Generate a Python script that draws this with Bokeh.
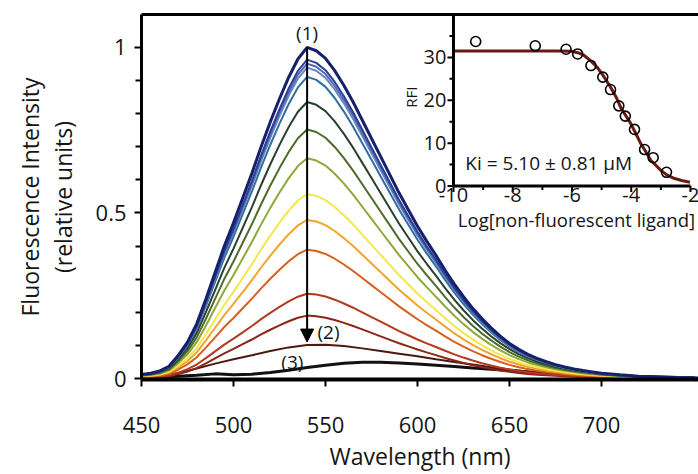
import math
from bokeh.plotting import figure
from bokeh.models import Range1d, LinearAxis, FixedTicker, Arrow, NormalHead
from bokeh.core.properties import value
from bokeh.embed import file_html
from bokeh.resources import INLINE

# ---------------- data ----------------
wavelength = [450, 455, 460, 465, 470, 475, 480, 485, 490, 495, 500, 505, 510, 515, 520,
              525, 530, 535, 540, 545, 550, 555, 560, 565, 570, 575, 580, 585, 590, 595,
              600, 605, 610, 615, 620, 625, 630, 635, 640, 645, 650, 655, 660, 665, 670,
              675, 680, 685, 690, 695, 700, 710, 720, 730, 740, 750, 755]
base_spectrum = [0.012, 0.016, 0.023, 0.037, 0.07, 0.11, 0.165, 0.24, 0.32, 0.40, 0.47,
                 0.545, 0.62, 0.70, 0.775, 0.845, 0.91, 0.965, 1.0, 0.99, 0.967, 0.93,
                 0.885, 0.835, 0.78, 0.725, 0.67, 0.615, 0.56, 0.51, 0.46, 0.415, 0.372,
                 0.327, 0.285, 0.247, 0.212, 0.181, 0.153, 0.128, 0.106, 0.088, 0.073,
                 0.061, 0.051, 0.042, 0.035, 0.029, 0.024, 0.02, 0.016, 0.011, 0.007,
                 0.005, 0.003, 0.002, 0.0015]
peak_levels = [1.000, 0.963, 0.951, 0.939, 0.911, 0.835, 0.752, 0.665, 0.557, 0.479,
               0.389, 0.256, 0.190]
curve_colors = ["#17206b", "#2b3f93", "#4f67b5", "#6a86c6", "#2f6f9c", "#29402f",
                "#4f6b2a", "#8fa83a", "#f3e84a", "#f2a52c", "#d8601e", "#b33a1f", "#8b2616"]

low_wavelength = [450, 460, 470, 480, 490, 500, 510, 520, 530, 540, 550, 560, 570, 580,
                  590, 600, 610, 620, 630, 640, 650, 660, 670, 680, 690, 700, 720, 750]
brown_spectrum = [0.003, 0.008, 0.016, 0.03, 0.045, 0.058, 0.07, 0.083, 0.094, 0.101,
                  0.102, 0.098, 0.091, 0.083, 0.075, 0.067, 0.058, 0.05, 0.042, 0.034,
                  0.027, 0.021, 0.016, 0.012, 0.009, 0.007, 0.004, 0.002]
black_spectrum = [0.004, 0.005, 0.007, 0.01, 0.014, 0.011, 0.013, 0.018, 0.025, 0.033,
                  0.04, 0.046, 0.049, 0.049, 0.047, 0.044, 0.04, 0.036, 0.032, 0.028,
                  0.024, 0.02, 0.016, 0.013, 0.01, 0.008, 0.005, 0.002]

x_ticks = [450, 500, 550, 600, 650, 700]
y_ticks = [0, 0.5, 1]
y_minor_ticks = [0.1, 0.2, 0.3, 0.4, 0.6, 0.7, 0.8, 0.9]

# inset: binding curve
inset_logc = [-9.25, -7.24, -6.2, -5.81, -5.36, -4.96, -4.70, -4.42, -4.20, -3.89,
              -3.55, -3.26, -2.81]
inset_rfi = [33.7, 32.7, 31.9, 30.8, 28.1, 25.4, 22.5, 18.7, 16.3, 13.2, 8.5, 6.6, 3.2]
fit_logc = [-10, -9, -8, -7, -6.5, -6.05, -5.8, -5.6, -5.4, -5.15, -4.95, -4.7, -4.5,
            -4.36, -4.2, -4.02, -3.85, -3.68, -3.5, -3.34, -3.15, -3.01, -2.8, -2.56,
            -2.3, -2.02]
fit_rfi = [31.5, 31.5, 31.5, 31.5, 31.5, 31.45, 31.1, 30.5, 29.4, 27.7, 25.8, 23.1, 20.6,
           18.4, 16.6, 14.6, 12.3, 9.9, 7.9, 6.0, 4.7, 3.7, 2.6, 1.8, 1.3, 0.9]
inset_xticks = [-10, -8, -6, -4, -2]
inset_xminor = [-9, -7, -5, -3]
inset_yticks = [0, 10, 20, 30]
inset_yminor = [5, 15, 25, 35]

FONT = "Open Sans"
TXT = "#151515"

p = figure(width=698, height=474, output_backend="svg", toolbar_location=None,
           x_range=Range1d(450, 752.7), y_range=Range1d(-0.003, 1.0994),
           min_border_left=141, min_border_right=0, min_border_top=14, min_border_bottom=94)
p.extra_x_ranges = {"ix": Range1d(-20.53, -1.73)}
p.extra_y_ranges = {"iy": Range1d(-45.12, 40.0)}
p.grid.visible = False
p.outline_line_color = None
p.background_fill_color = "white"
p.border_fill_color = "white"

# main axes
xa = p.xaxis[0]
xa.ticker = FixedTicker(ticks=x_ticks)
xa.axis_line_width = 4
xa.axis_line_color = "black"
xa.major_tick_out = 7
xa.major_tick_in = 0
xa.major_tick_line_width = 2
xa.minor_tick_line_color = None
xa.major_label_text_font = FONT
xa.major_label_text_font_size = "22px"
xa.major_label_text_color = TXT
xa.major_label_standoff = 30
xa.axis_label = "Wavelength (nm)"
xa.axis_label_text_font = FONT
xa.axis_label_text_font_size = "23px"
xa.axis_label_text_font_style = "normal"
xa.axis_label_text_color = TXT
xa.axis_label_standoff = 4

ya = p.yaxis[0]
ya.ticker = FixedTicker(ticks=y_ticks, minor_ticks=y_minor_ticks)
ya.axis_line_width = 3
ya.axis_line_color = "black"
ya.major_tick_out = 7
ya.major_tick_in = 0
ya.major_tick_line_width = 2
ya.minor_tick_out = 6
ya.minor_tick_in = 0
ya.minor_tick_line_width = 2
ya.major_label_overrides = {0: "0", 0.5: "0.5", 1: "1"}
ya.major_label_text_font = FONT
ya.major_label_text_font_size = "22px"
ya.major_label_text_color = TXT
ya.major_label_standoff = 8
ya.axis_label = "(relative units)"
ya.axis_label_text_font = FONT
ya.axis_label_text_font_size = "23px"
ya.axis_label_text_font_style = "normal"
ya.axis_label_text_color = TXT
ya.axis_label_standoff = 14

outer_y = LinearAxis(ticker=FixedTicker(ticks=[]), axis_line_color=None,
                     major_tick_line_color=None, minor_tick_line_color=None,
                     major_label_text_font_size="0px",
                     axis_label="Fluorescence Intensity", axis_label_text_font=FONT,
                     axis_label_text_font_size="23px", axis_label_text_font_style="normal",
                     axis_label_text_color=TXT, axis_label_standoff=-2)
p.add_layout(outer_y, "left")

top_axis = LinearAxis(ticker=FixedTicker(ticks=[]), axis_line_width=3,
                      axis_line_color="black", major_tick_line_color=None,
                      minor_tick_line_color=None, major_label_text_font_size="0px")
p.add_layout(top_axis, "above")

# spectra: draw lowest first
p.line(low_wavelength, black_spectrum, line_color="#111111", line_width=3)
p.line(low_wavelength, brown_spectrum, line_color="#4a1a12", line_width=2)
for amp, col in reversed(list(zip(peak_levels, curve_colors))):
    ys = [amp * v for v in base_spectrum]
    lw = 3 if amp == peak_levels[0] else 2
    p.line(wavelength, ys, line_color=col, line_width=lw)

# arrow and labels
p.add_layout(Arrow(end=NormalHead(size=13, fill_color="black", line_color="black"),
                   x_start=540, y_start=1.0, x_end=540, y_end=0.11,
                   line_width=2, line_color="black"))
p.text(x=[540, 551.6, 532], y=[1.045, 0.14, 0.05], text=["(1)", "(2)", "(3)"],
       text_font=value(FONT), text_font_size="19px", text_color=TXT,
       text_align="center", text_baseline="middle")

# ---------------- inset ----------------
R = dict(x_range_name="ix", y_range_name="iy")
p.line(fit_logc, fit_rfi, line_color="#6b1a10", line_width=3, **R)
p.scatter(inset_logc, inset_rfi, marker="circle", size=10, fill_color=None,
          line_color="black", line_width=1.6, **R)
# inset axis lines
p.segment(x0=[inset_xticks[0], inset_xticks[0]], y0=[inset_yticks[0], inset_yticks[0]],
          x1=[inset_xticks[0], inset_xticks[-1]], y1=[40.0, inset_yticks[0]],
          line_color="black", line_width=3, **R)
# inset ticks
p.ray(x=[inset_xticks[0]] * len(inset_yticks), y=inset_yticks, length=6,
      length_units="screen", angle=math.pi, line_color="black", line_width=2, **R)
p.ray(x=[inset_xticks[0]] * len(inset_yminor), y=inset_yminor, length=4,
      length_units="screen", angle=math.pi, line_color="black", line_width=2, **R)
p.ray(x=inset_xticks, y=[0] * len(inset_xticks), length=6, length_units="screen",
      angle=-math.pi / 2, line_color="black", line_width=2, **R)
p.ray(x=inset_xminor, y=[0] * len(inset_xminor), length=4, length_units="screen",
      angle=-math.pi / 2, line_color="black", line_width=2, **R)
# inset tick labels
p.text(x=[inset_xticks[0]] * len(inset_yticks), y=inset_yticks,
       text=[str(v) for v in inset_yticks], x_offset=-7, text_align="right",
       text_baseline="middle", text_font=value(FONT), text_font_size="20px",
       text_color=TXT, **R)
p.text(x=inset_xticks, y=[0] * len(inset_xticks), text=[str(v) for v in inset_xticks],
       y_offset=2, text_align="center", text_baseline="top", text_font=value(FONT),
       text_font_size="20px", text_color=TXT, **R)
p.text(x=[-5.85], y=[-7.8], text=["Log[non-fluorescent ligand]"], text_align="center",
       text_baseline="middle", text_font=value(FONT), text_font_size="18.5px",
       text_color=TXT, **R)
p.text(x=[-9.6], y=[5.3], text=["Ki  = 5.10 \u00b1 0.81 \u03bcM"], text_align="left",
       text_baseline="middle", text_font=value(FONT), text_font_size="19px",
       text_color=TXT, **R)
p.text(x=[-11.45], y=[20.7], text=["RFI"], angle=math.pi / 2, text_align="center",
       text_baseline="middle", text_font=value(FONT), text_font_size="15px",
       text_color=TXT, **R)

open("out.html", "w").write(file_html(p, INLINE))
